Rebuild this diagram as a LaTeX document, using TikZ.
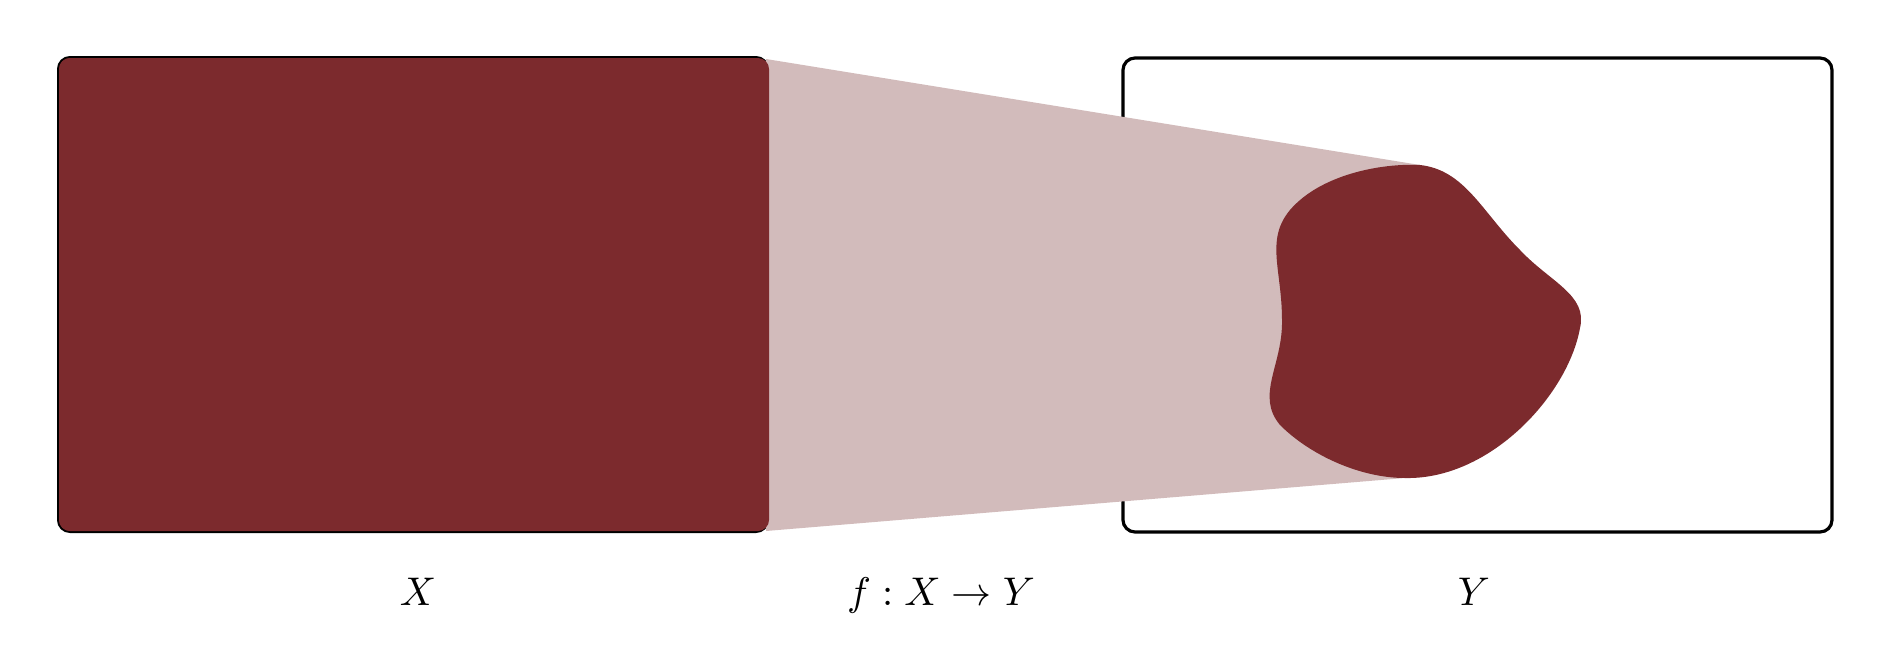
\documentclass[tikz,border=0pt]{standalone}
\usetikzlibrary{calc}
\definecolor{maroon}{RGB}{124,42,45}
\definecolor{pale}{RGB}{210,187,187}
\begin{document}
\begin{tikzpicture}[x=1pt,y=-1pt,
  lbl/.style={anchor=base,inner sep=0pt,scale=4.0}]
\useasboundingbox (0,0) rectangle (1891,651);
% left box
\draw[line width=2pt,rounded corners=12pt,fill=maroon] (58,57) rectangle (768,532);
% right box
\draw[line width=3.2pt,rounded corners=12pt] (1123,58) rectangle (1832,532);
% named points
\coordinate (lt) at (766,59);
\coordinate (lb) at (766,531);
\coordinate (bt) at (1420,165);
\coordinate (bb) at (1405,478);
% cone
\fill[pale] (lt) -- (bt) -- (1500,320) -- (bb) -- (lb) -- cycle;
% left box fill again
\fill[maroon,rounded corners=11pt] (59,58) rectangle (769,531);
% blob
\fill[maroon] (bt) .. controls (1465,170) and (1482,212) .. (1520,250)
  .. controls (1550,282) and (1588,295) .. (1580,328)
  .. controls (1568,395) and (1490,480) .. (bb)
  .. controls (1360,478) and (1310,455) .. (1280,425)
  .. controls (1255,395) and (1283,365) .. (1282,320)
  .. controls (1282,270) and (1265,240) .. (1290,210)
  .. controls (1320,175) and (1380,163) .. (bt) -- cycle;
% labels
\node[lbl] (x) at (418,605) {$X$};
\node[lbl] (f) at (941,605) {$f:X\to Y$};
\node[lbl] (y) at (1474,605) {$Y$};
\end{tikzpicture}
\end{document}
